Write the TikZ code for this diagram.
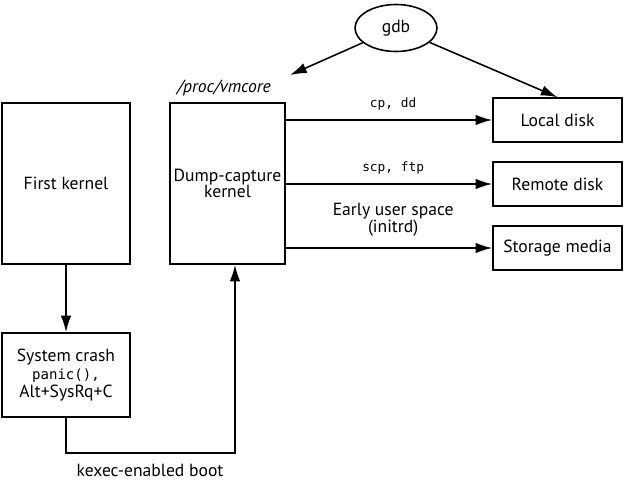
\documentclass[tikz,border=0pt]{standalone}
\usepackage{fontspec}
\setmainfont{PT Sans}
\setmonofont{DejaVu Sans Mono}
\usetikzlibrary{arrows.meta,shapes.geometric}
\tikzset{
  box/.style={draw,line width=0.9pt,align=center,inner sep=2pt,font=\fontsize{10}{11.5}\selectfont},
  arr/.style={-{Latex[length=9.5pt,width=6pt]},line width=0.9pt},
  lbl/.style={font=\fontsize{10}{11.5}\selectfont,align=center},
  code/.style={font=\ttfamily\fontsize{7.3}{9}\selectfont}
}
\begin{document}
\begin{tikzpicture}[x=0.02cm,y=-0.02cm]
    \useasboundingbox (0,0) rectangle (624,479);
    % kernels
    \node[box,minimum width=2.56cm,minimum height=3.22cm] (first) at (66,183.5) {First kernel};
    \node[box,minimum width=2.3cm,minimum height=3.22cm] (dump) at (227.5,183.5) {Dump-capture\\[-2pt]kernel};
    \node[box,minimum width=2.56cm,minimum height=1.68cm] (crash) at (66,375) {System crash\\[-1pt]{\ttfamily\fontsize{8}{9}\selectfont panic(),}\\[-1pt]Alt+SysRq+C};
    % targets
    \node[box,minimum width=2.58cm,minimum height=0.88cm] (local) at (557.5,120) {Local disk};
    \node[box,minimum width=2.58cm,minimum height=0.88cm] (remote) at (557.5,184) {Remote disk};
    \node[box,minimum width=2.58cm,minimum height=0.88cm] (storage) at (557.5,248) {Storage media};
    \node[box,ellipse,minimum width=1.64cm,minimum height=0.94cm] (gdb) at (396,28) {gdb};
    \node[lbl,font=\itshape\fontsize{10}{11.5}\selectfont] (vmtext) at (224,88) {/proc/vmcore};
    \coordinate (vm) at (290,75);
    \coordinate (kx) at (235,453);
    % connectors
    \draw[arr] (gdb) -- (vm);
    \draw[arr] (gdb) -- (local.north);
    \draw[arr] (dump.east |- local.west) -- node[code,above,pos=0.52,yshift=2pt]{cp, dd} (local.west);
    \draw[arr] (dump.east |- remote.west) -- node[code,above,pos=0.52,yshift=2pt]{scp, ftp} (remote.west);
    \draw[arr] (dump.east |- storage.west) -- node[lbl,above,pos=0.52,yshift=3pt]{Early user space\\[-2pt](initrd)} (storage.west);
    \draw[arr] (first.south) -- (crash.north);
    \draw[arr] (crash.south) |- (kx) -- (kx |- dump.south);
    \node[lbl,anchor=base] (boot) at (150,476) {kexec-enabled boot};
\end{tikzpicture}
\end{document}
